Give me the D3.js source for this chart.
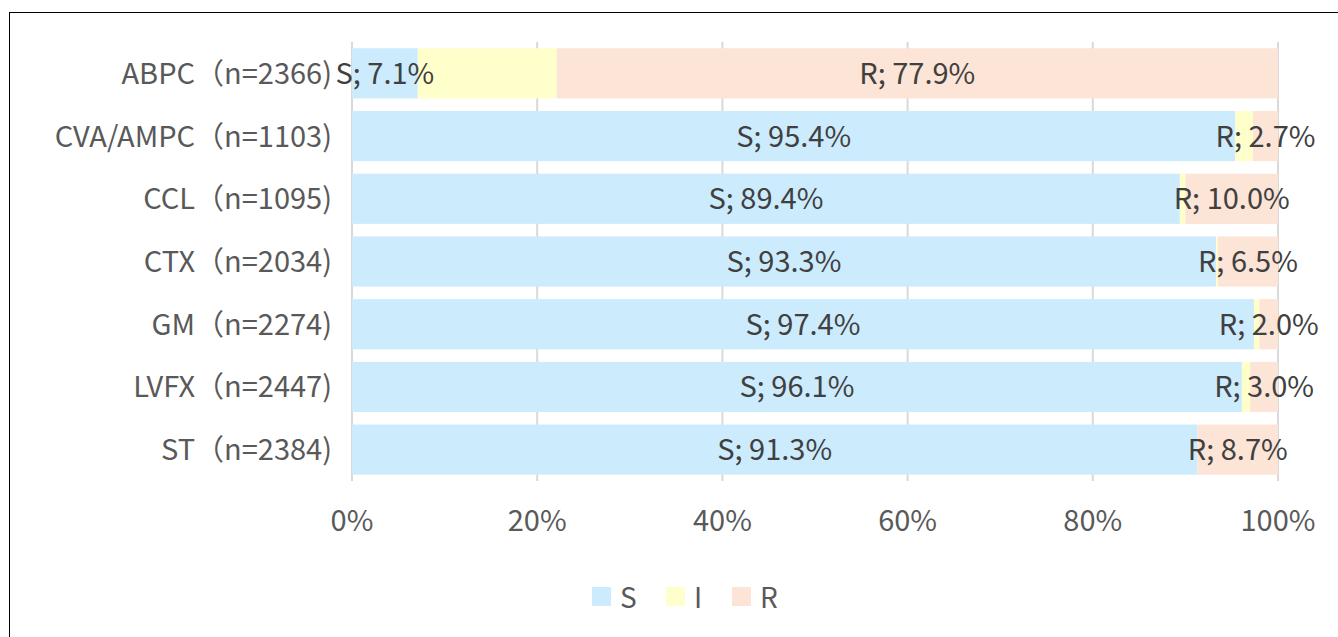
<!DOCTYPE html>
<html>
<head>
<meta charset="utf-8">
<script src="https://d3js.org/d3.v7.min.js"></script>
<style>
  body { margin: 0; background: #fff; }
  text { font-family: "Noto Sans CJK JP", "Noto Sans", sans-serif; }
</style>
</head>
<body>
<script>
// data
var categories = ["ABPC（n=2366)", "CVA/AMPC（n=1103)", "CCL（n=1095)", "CTX（n=2034)", "GM（n=2274)", "LVFX（n=2447)", "ST（n=2384)"];
var sVals = [7.1, 95.4, 89.4, 93.3, 97.4, 96.1, 91.3];
var iVals = [15.0, 1.9, 0.6, 0.2, 0.6, 0.9, 0.0];
var rVals = [77.9, 2.7, 10.0, 6.5, 2.0, 3.0, 8.7];
var seriesNames = ["S", "I", "R"];
var ticks = [0, 20, 40, 60, 80, 100];
var colors = {S: "#CCEBFD", I: "#FFFFCC", R: "#FCE4D6"};

var W = 1338, H = 637;
var svg = d3.select("body").append("svg").attr("width", W).attr("height", H);

svg.append("rect").attr("x", 9.5).attr("y", 12.5).attr("width", W).attr("height", H)
  .attr("fill", "#fff").attr("stroke", "#000").attr("stroke-width", 1);

var plotL = 352, plotR = 1278, plotT = 42, plotB = 481;

var x = d3.scaleLinear().domain([0, 100]).range([plotL, plotR]);
var y = d3.scaleBand().domain(categories).range([plotT, plotB]).paddingInner(0.2).paddingOuter(0.1);

// gridlines + tick marks
svg.append("g").selectAll("line").data(ticks).join("line")
  .attr("x1", d => x(d)).attr("x2", d => x(d))
  .attr("y1", plotT).attr("y2", plotB)
  .attr("stroke", "#d9d9d9").attr("stroke-width", 2);

var rows = categories.map(function(c, i) {
  return {cat: c, S: sVals[i], I: iVals[i], R: rVals[i]};
});
var stack = d3.stack().keys(seriesNames)(rows);

var g = svg.append("g");
stack.forEach(function(layer) {
  g.append("g").selectAll("rect").data(layer).join("rect")
    .attr("x", d => x(d[0]))
    .attr("width", d => x(d[1]) - x(d[0]))
    .attr("y", d => y(d.data.cat))
    .attr("height", y.bandwidth())
    .attr("fill", colors[layer.key]);
});

// category labels
svg.append("g").selectAll("text").data(categories).join("text")
  .attr("x", plotL - 20)
  .attr("y", d => y(d) + y.bandwidth() / 2)
  .attr("dy", "0.36em")
  .attr("text-anchor", "end")
  .attr("font-size", 29)
  .attr("fill", "#595959")
  .text(d => d);

// data labels for S and R
var labels = svg.append("g");
stack.filter(l => l.key !== "I").forEach(function(layer) {
  labels.append("g").selectAll("text").data(layer).join("text")
    .attr("x", d => (x(d[0]) + x(d[1])) / 2)
    .attr("y", d => y(d.data.cat) + y.bandwidth() / 2)
    .attr("dy", "0.36em")
    .attr("text-anchor", "middle")
    .attr("font-size", 29)
    .attr("fill", "#404040")
    .text(d => layer.key + "; " + d3.format(".1f")(d.data[layer.key]) + "%");
});

// x tick labels
svg.append("g").selectAll("text").data(ticks).join("text")
  .attr("x", d => x(d))
  .attr("y", 521)
  .attr("dy", "0.36em")
  .attr("text-anchor", "middle")
  .attr("font-size", 29)
  .attr("fill", "#595959")
  .text(d => d + "%");

// legend
var legendX = [592, 666, 732];
var lg = svg.append("g");
seriesNames.forEach(function(s, i) {
  lg.append("rect").attr("x", legendX[i]).attr("y", 587).attr("width", 19).attr("height", 19).attr("fill", colors[s]);
  lg.append("text").attr("x", legendX[i] + 28).attr("y", 598).attr("dy", "0.36em")
    .attr("font-size", 28).attr("fill", "#595959").text(s);
});
</script>
</body>
</html>
